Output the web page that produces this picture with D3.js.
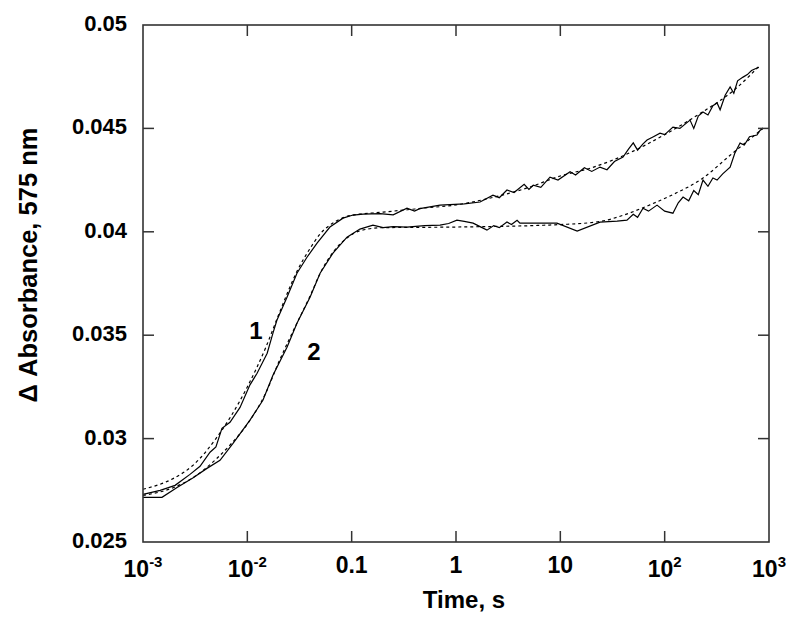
<!DOCTYPE html>
<html>
<head>
<meta charset="utf-8">
<script src="https://cdn.jsdelivr.net/npm/d3@7"></script>
<style>
  body { margin: 0; background: #fff; }
  text { font-family: Arial, "Liberation Sans", sans-serif; font-weight: bold; fill: #000; }
</style>
</head>
<body>
<script>
var width = 800;
var height = 634;

// trace 1 (measured) : [time s, dA]
var trace1 = [
  [0.00100,0.02730],[0.00146,0.02750],[0.00203,0.02774],[0.00282,0.02827],[0.00352,0.02866],
  [0.00439,0.02934],[0.00500,0.02960],[0.00571,0.03050],[0.00682,0.03079],[0.00851,0.03151],
  [0.0106,0.03260],[0.0124,0.03316],[0.0155,0.03413],[0.0176,0.03510],[0.0192,0.03572],
  [0.0240,0.03684],[0.0299,0.03800],[0.0373,0.03877],[0.0466,0.03945],[0.0619,0.04023],
  [0.0826,0.04066],[0.103,0.04081],[0.129,0.04085],[0.187,0.04088],[0.25,0.04082],
  [0.339,0.04114],[0.40,0.04100],[0.45,0.04112],[0.703,0.04129],[1.2,0.04135],
  [1.70,0.04144],[2.26,0.04177],[2.6,0.04165],[3.08,0.04202],[3.6,0.04190],
  [4.5,0.04230],[5.0,0.04205],[5.5,0.04225],[6.5,0.04215],[7.96,0.04264],
  [9.5,0.04250],[12.4,0.04290],[14,0.04275],[17,0.04310],[20,0.04292],
  [24.0,0.04313],[28,0.04300],[33,0.04340],[39.9,0.04361],[45,0.04400],
  [50,0.04430],[55,0.04395],[62,0.04425],[67.8,0.04444],[78,0.04460],
  [90.2,0.04477],[100,0.04470],[120,0.04506],[140,0.04500],[175,0.04540],
  [190,0.04500],[210,0.04560],[233,0.04579],[260,0.04565],[290,0.04610],
  [318,0.04623],[340,0.04590],[380,0.04660],[424,0.04700],[460,0.04670],
  [500,0.04730],[564,0.04748],[620,0.04760],[680,0.04780],[767,0.04792],[800,0.04795]
];

// trace 1 fit
var fit1 = [
  [0.001,0.02755],[0.002,0.02810],[0.003,0.02870],[0.005,0.03000],[0.007,0.03110],
  [0.01,0.03250],[0.015,0.03440],[0.02,0.03600],[0.03,0.03810],[0.04,0.03920],
  [0.05,0.03990],[0.07,0.04050],[0.1,0.04080],[0.2,0.04095],[0.5,0.04115],
  [1,0.04130],[2,0.04160],[5,0.04215],[10,0.04270],[20,0.04310],
  [50,0.04390],[100,0.04470],[200,0.04560],[500,0.04700],[800,0.04800]
];

// trace 2 (measured)
var trace2 = [
  [0.00100,0.02716],[0.00152,0.02716],[0.00212,0.02764],[0.00300,0.02810],[0.00410,0.02856],
  [0.00547,0.02895],[0.00729,0.02977],[0.0106,0.03089],[0.0141,0.03185],[0.0176,0.03306],
  [0.0240,0.03442],[0.0299,0.03558],[0.0399,0.03684],[0.0498,0.03800],[0.0662,0.03897],
  [0.0902,0.03974],[0.120,0.04013],[0.160,0.04032],[0.20,0.04020],[0.25,0.04025],
  [0.339,0.04023],[0.5,0.04030],[0.703,0.04032],[0.85,0.04040],[1.02,0.04056],
  [1.2,0.04050],[1.46,0.04042],[1.7,0.04025],[1.98,0.04008],[2.3,0.04030],
  [2.6,0.04020],[3.08,0.04047],[3.4,0.04035],[3.85,0.04056],[4.1,0.04042],
  [5,0.04042],[9.29,0.04042],[14.5,0.04003],[24.0,0.04047],[35,0.04052],
  [43.5,0.04056],[50,0.04085],[55,0.04070],[62.0,0.04114],[70,0.04100],
  [84.5,0.04129],[100,0.04100],[120,0.04090],[135,0.04140],[150,0.04168],
  [170,0.04150],[190,0.04200],[210,0.04180],[233,0.04250],[260,0.04220],
  [290,0.04260],[318,0.04250],[360,0.04280],[424,0.04313],[470,0.04380],
  [528,0.04429],[580,0.04420],[650,0.04460],[767,0.04468],[820,0.04490],[877,0.04502]
];

// trace 2 fit
var fit2 = [
  [0.001,0.02725],[0.002,0.02765],[0.003,0.02810],[0.005,0.02900],[0.007,0.02975],
  [0.01,0.03070],[0.015,0.03220],[0.02,0.03370],[0.03,0.03560],[0.04,0.03690],
  [0.05,0.03800],[0.066,0.03900],[0.09,0.03970],[0.12,0.04005],[0.2,0.04020],
  [1,0.04023],[10,0.04035],[24,0.04050],[40,0.04080],[72,0.04130],
  [120,0.04180],[233,0.04260],[424,0.04370],[877,0.04500]
];

var xTicks = [1e-3, 1e-2, 0.1, 1, 10, 1e2, 1e3];
var xTickBase = ["10", "10", "0.1", "1", "10", "10", "10"];
var xTickExp = ["-3", "-2", "", "", "", "2", "3"];
var yTicks = [0.025, 0.03, 0.035, 0.04, 0.045, 0.05];
var yTickLabels = ["0.025", "0.03", "0.035", "0.04", "0.045", "0.05"];

var labels = [
  { text: "1", t: 0.0121, a: 0.0352 },
  { text: "2", t: 0.0436, a: 0.0342 }
];

var mLeft = 143, mRight = 769, mTop = 25, mBottom = 542;

var x = d3.scaleLog().domain([1e-3, 1e3]).range([mLeft, mRight]);
var y = d3.scaleLinear().domain([0.025, 0.05]).range([mBottom, mTop]);

var svg = d3.select("body").append("svg")
  .attr("width", width)
  .attr("height", height);

var line = d3.line()
  .x(function(d) { return x(d[0]); })
  .y(function(d) { return y(d[1]); });

// fits (dashed)
[fit1, fit2].forEach(function(f) {
  svg.append("path")
    .datum(f)
    .attr("d", line.curve(d3.curveMonotoneX))
    .attr("fill", "none")
    .attr("stroke", "#000")
    .attr("stroke-width", 1.2)
    .attr("stroke-dasharray", "3,3");
});

// measured traces
[trace1, trace2].forEach(function(tr) {
  svg.append("path")
    .datum(tr)
    .attr("d", line.curve(d3.curveLinear))
    .attr("fill", "none")
    .attr("stroke", "#000")
    .attr("stroke-width", 1.2);
});

// frame
svg.append("rect")
  .attr("x", mLeft).attr("y", mTop)
  .attr("width", mRight - mLeft).attr("height", mBottom - mTop)
  .attr("fill", "none")
  .attr("stroke", "#333")
  .attr("stroke-width", 1.6);

var tl = 11;

// x ticks, bottom + top, inward
xTicks.slice(1, -1).forEach(function(t) {
  svg.append("line").attr("x1", x(t)).attr("x2", x(t))
    .attr("y1", mBottom).attr("y2", mBottom - tl)
    .attr("stroke", "#333").attr("stroke-width", 1.5);
  svg.append("line").attr("x1", x(t)).attr("x2", x(t))
    .attr("y1", mTop).attr("y2", mTop + tl)
    .attr("stroke", "#333").attr("stroke-width", 1.5);
});

// y ticks, left + right, inward
yTicks.slice(1, -1).forEach(function(v) {
  svg.append("line").attr("x1", mLeft).attr("x2", mLeft + tl)
    .attr("y1", y(v)).attr("y2", y(v))
    .attr("stroke", "#333").attr("stroke-width", 1.5);
  svg.append("line").attr("x1", mRight).attr("x2", mRight - tl)
    .attr("y1", y(v)).attr("y2", y(v))
    .attr("stroke", "#333").attr("stroke-width", 1.5);
});

// x tick labels
xTicks.forEach(function(t, i) {
  var txt = svg.append("text")
    .attr("x", x(t))
    .attr("y", xTickExp[i] ? 577 : 573)
    .attr("text-anchor", "middle")
    .style("font-size", "23px");
  txt.append("tspan").text(xTickBase[i]);
  if (xTickExp[i]) {
    txt.append("tspan")
      .attr("dy", -10)
      .style("font-size", "15px")
      .text(xTickExp[i]);
  }
});

// y tick labels
yTicks.forEach(function(v, i) {
  svg.append("text")
    .attr("x", 127)
    .attr("y", y(v) + 6)
    .attr("text-anchor", "end")
    .style("font-size", "22px")
    .text(yTickLabels[i]);
});

// axis titles
svg.append("text")
  .attr("x", 464)
  .attr("y", 608)
  .attr("text-anchor", "middle")
  .style("font-size", "24px")
  .text("Time, s");

svg.append("text")
  .attr("transform", "translate(37," + 265 + ") rotate(-90)")
  .attr("text-anchor", "middle")
  .style("font-size", "25.5px")
  .text("Δ Absorbance, 575 nm");

// curve labels
svg.selectAll(".clabel")
  .data(labels)
  .enter().append("text")
  .attr("class", "clabel")
  .attr("x", function(d) { return x(d.t); })
  .attr("y", function(d) { return y(d.a); })
  .attr("dy", "0.35em")
  .attr("text-anchor", "middle")
  .style("font-size", "24px")
  .text(function(d) { return d.text; });
</script>
</body>
</html>
